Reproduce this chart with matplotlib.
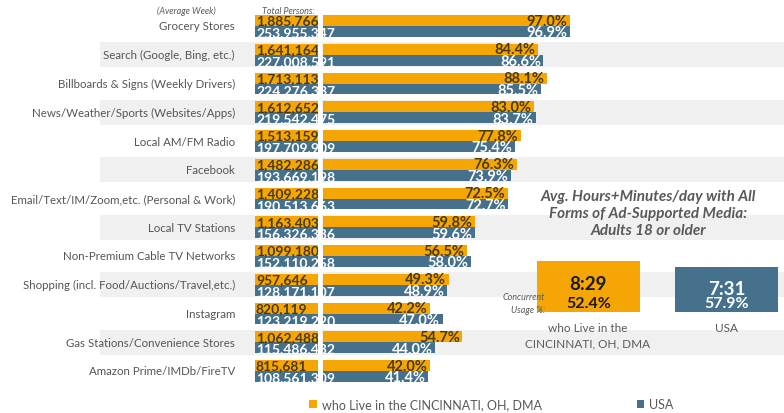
import matplotlib.pyplot as plt
from matplotlib.patches import Rectangle

categories = [
    "Grocery Stores",
    "Search (Google, Bing, etc.)",
    "Billboards & Signs (Weekly Drivers)",
    "News/Weather/Sports (Websites/Apps)",
    "Local AM/FM Radio",
    "Facebook",
    "Email/Text/IM/Zoom,etc. (Personal & Work)",
    "Local TV Stations",
    "Non-Premium Cable TV Networks",
    "Shopping (incl. Food/Auctions/Travel,etc.)",
    "Instagram",
    "Gas Stations/Convenience Stores",
    "Amazon Prime/IMDb/FireTV",
]
local_persons = [1885766, 1641164, 1713113, 1612652, 1513159, 1482286, 1409228,
                 1163403, 1099180, 957646, 820119, 1062488, 815681]
usa_persons = [253955347, 227008591, 224276337, 219542475, 197709909, 193669198,
               190513663, 156326336, 152110258, 128171107, 123219220, 115486432,
               108561309]
local_pct = [97.0, 84.4, 88.1, 83.0, 77.8, 76.3, 72.5, 59.8, 56.5, 49.3, 42.2, 54.7, 42.0]
usa_pct = [96.9, 86.6, 85.5, 83.7, 75.4, 73.9, 72.7, 59.6, 58.0, 48.9, 47.0, 44.0, 41.4]

series_names = ["who Live in the CINCINNATI, OH, DMA", "USA"]
minutes_per_day = [509, 451]
time_labels = ["8:29", "7:31"]
concurrent_pct = [52.4, 57.9]
box_labels = ["who Live in the\nCINCINNATI, OH, DMA", "USA"]

ORANGE = "#F5A604"
BLUE = "#45718D"
GRAY_TXT = "#595959"
DARK_TXT = "#4a3a08"
BAND = "#F0F0F0"

plt.rcParams['font.family'] = ['Lato', 'DejaVu Sans']

W, H = 784, 414
fig = plt.figure(figsize=(W / 100, H / 100), dpi=100)
ax = fig.add_axes([0, 0, 1, 1])

# pixel layout: 0% at x=323px, 2.546 px per percent; row 0 at y=27px, 28.75px per row
px_per_pct = 2.546
x0 = 323
row0, row_h = 27, 28.75
ax.set_xlim(-x0 / px_per_pct, (W - x0) / px_per_pct)
ax.set_ylim((H - row0) / row_h, -row0 / row_h)
ax.axis("off")

def px_x(p):
    return (p - x0) / px_per_pct

n = len(categories)
rows = list(range(n))

# alternating gray bands
for i in rows:
    if i % 2 == 1:
        ax.add_patch(Rectangle((px_x(100), i - 0.44), px_x(W) - px_x(100), 0.88,
                               facecolor=BAND, edgecolor="none", zorder=0))

bh = 0.38
ax.barh([i - bh / 2 for i in rows], local_pct, height=bh, color=ORANGE, zorder=2,
        label=series_names[0])
ax.barh([i + bh / 2 for i in rows], usa_pct, height=bh, color=BLUE, zorder=2,
        label=series_names[1])

# total persons boxes
box_left = px_x(255)
box_w = px_x(318) - px_x(255)
ax.barh([i - bh / 2 for i in rows], [box_w] * n, left=box_left, height=bh, color=ORANGE, zorder=2)
ax.barh([i + bh / 2 for i in rows], [box_w] * n, left=box_left, height=bh, color=BLUE, zorder=2)

for i in rows:
    ax.text(px_x(256), i - bh / 2, f"{local_persons[i]:,}", ha="left", va="center",
            fontsize=10, fontweight="bold", color=DARK_TXT, zorder=3)
    ax.text(px_x(256), i + bh / 2 + 0.03, f"{usa_persons[i]:,}", ha="left", va="center",
            fontsize=10, fontweight="bold", color="white", zorder=3)
    ax.text(local_pct[i] - 1, i - bh / 2, f"{local_pct[i]:.1f}%", ha="right", va="center",
            fontsize=10.5, fontweight="bold", color=DARK_TXT, zorder=3)
    ax.text(usa_pct[i] - 1, i + bh / 2 + 0.03, f"{usa_pct[i]:.1f}%", ha="right", va="center",
            fontsize=10.5, fontweight="bold", color="white", zorder=3)
    ax.text(px_x(235), i, categories[i], ha="right", va="center", fontsize=8.3,
            color="#555555", zorder=3)

# white gap between total column and percent bars
ax.add_patch(Rectangle((px_x(318), -0.5), px_x(322) - px_x(318), n,
                       facecolor="white", edgecolor="none", zorder=4))

fig.text(186 / W, 1 - 11 / H, "(Average Week)", ha="center", va="center",
         fontsize=6.5, style="italic", color=GRAY_TXT)
fig.text(262 / W, 1 - 11 / H, "Total Persons:", ha="left", va="center",
         fontsize=6.5, style="italic", color=GRAY_TXT)

# right panel
fig.text(648 / W, 1 - 214 / H,
         "Avg. Hours+Minutes/day with All\nForms of Ad-Supported Media:\nAdults 18 or older",
         ha="center", va="center", fontsize=11, style="italic", fontweight="bold",
         color=GRAY_TXT, linespacing=1.3)

ax2 = fig.add_axes([537 / W, (H - 313) / H, 241 / W, 51 / H])
ax2.set_xlim(-0.373, 1.373)
ax2.set_ylim(0, max(minutes_per_day))
ax2.bar([0, 1], minutes_per_day, width=0.746, color=[ORANGE, BLUE])
ax2.axis("off")
txt_cols = ["#1a1a1a", "white"]
for j in range(2):
    top = minutes_per_day[j]
    ax2.text(j, top - 23 / 51 * 509 + (509 - top) * 0.15, time_labels[j], ha="center", va="center",
             fontsize=13.5, fontweight="bold", color=txt_cols[j])
    ax2.text(j, 9 / 51 * 509, f"{concurrent_pct[j]:.1f}%", ha="center", va="center",
             fontsize=11.5, fontweight="bold", color=txt_cols[j])

fig.text(545 / W, 1 - 304 / H, "Concurrent\nUsage %:", ha="right", va="center",
         fontsize=6.5, style="italic", color=GRAY_TXT, linespacing=1.5)
fig.text(588 / W, 1 - 336 / H, box_labels[0], ha="center", va="center",
         fontsize=8.5, color=GRAY_TXT, linespacing=1.5)
fig.text(726 / W, 1 - 329 / H, box_labels[1], ha="center", va="center",
         fontsize=8.5, color=GRAY_TXT)

handles, labels = ax.get_legend_handles_labels()
fig.legend(handles[:2], labels[:2], loc="center left", bbox_to_anchor=(298 / W, 1 - 405 / H),
           ncol=2, frameon=False, fontsize=9, handlelength=0.6, handleheight=0.6,
           handletextpad=0.4, columnspacing=7.6, labelcolor=GRAY_TXT)

fig.savefig("out.png", dpi=100)
